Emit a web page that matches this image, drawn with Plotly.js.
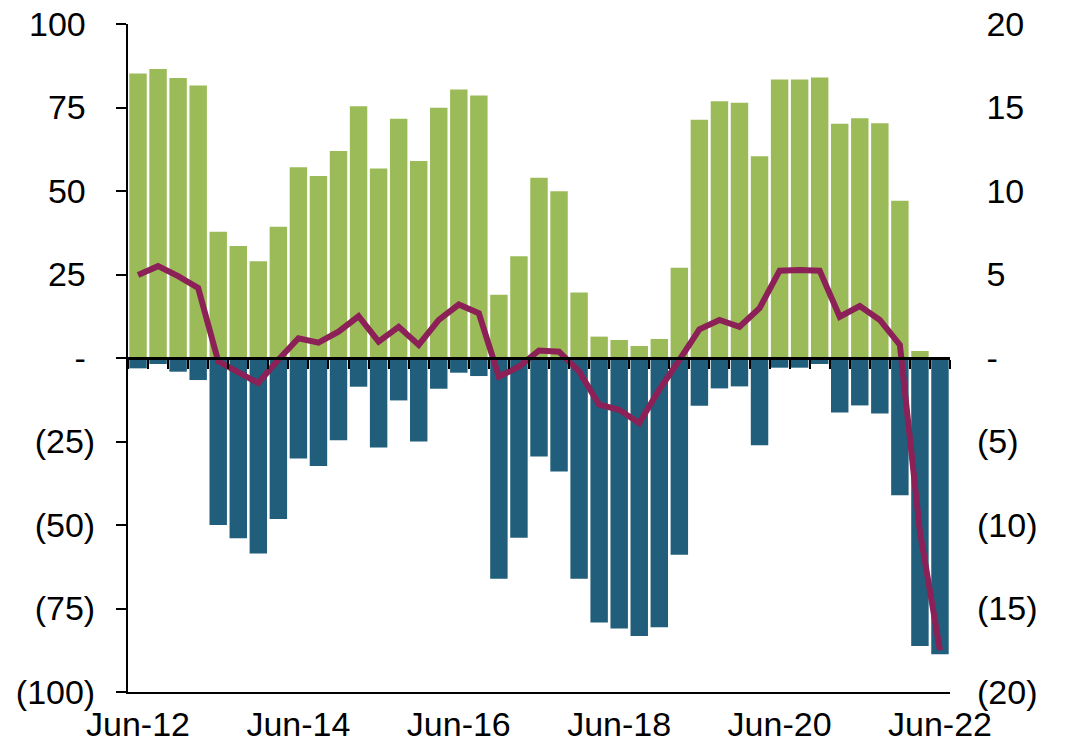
<!DOCTYPE html>
<html>
<head>
<meta charset="utf-8">
<script src="https://cdn.plot.ly/plotly-3.0.1.min.js"></script>
<style>
  html, body { margin: 0; padding: 0; background: #ffffff; }
  #chart { width: 1068px; height: 742px; }
</style>
</head>
<body>
<div id="chart"></div>
<script>
// Quarter labels
const quarters = [
  "Jun-12","Sep-12","Dec-12","Mar-13","Jun-13","Sep-13","Dec-13","Mar-14",
  "Jun-14","Sep-14","Dec-14","Mar-15","Jun-15","Sep-15","Dec-15","Mar-16",
  "Jun-16","Sep-16","Dec-16","Mar-17","Jun-17","Sep-17","Dec-17","Mar-18",
  "Jun-18","Sep-18","Dec-18","Mar-19","Jun-19","Sep-19","Dec-19","Mar-20",
  "Jun-20","Sep-20","Dec-20","Mar-21","Jun-21","Sep-21","Dec-21","Mar-22",
  "Jun-22"
];

// Positive series (green bars, left axis)
const positiveValues = [
  85.2, 86.5, 83.8, 81.6, 37.8, 33.5, 29.0, 39.3,
  57.1, 54.5, 62.0, 75.4, 56.7, 71.6, 59.0, 74.9,
  80.4, 78.6, 18.9, 30.5, 54.0, 49.9, 19.6, 6.4,
  5.4, 3.6, 5.7, 27.0, 71.3, 76.9, 76.4, 60.4,
  83.4, 83.4, 84.0, 70.1, 71.8, 70.3, 47.1, 2.1,
  0.0
];

// Negative series (blue bars, left axis)
const negativeValues = [
  -3.1, -1.8, -4.1, -6.6, -50.0, -54.0, -58.5, -48.2,
  -30.1, -32.3, -24.6, -8.6, -26.8, -12.7, -25.0, -9.2,
  -4.4, -5.4, -66.1, -53.8, -29.5, -34.0, -66.1, -79.2,
  -81.0, -83.2, -80.6, -58.9, -14.3, -9.1, -8.5, -26.1,
  -2.9, -2.9, -1.8, -16.3, -14.2, -16.6, -41.1, -86.2,
  -88.7
];

// Net series (purple line, right axis)
const netValues = [
  4.97, 5.5, 4.9, 4.2, -0.2, -0.8, -1.5, -0.1,
  1.18, 0.92, 1.58, 2.5, 0.98, 1.87, 0.78, 2.28,
  3.2, 2.68, -1.12, -0.52, 0.45, 0.38, -0.8, -2.8,
  -3.1, -3.9, -1.9, -0.12, 1.72, 2.28, 1.87, 2.98,
  5.23, 5.27, 5.23, 2.47, 3.11, 2.28, 0.78, -10.4,
  -17.5
];

// Axis tick labels
const xTickLabels = ["Jun-12","Jun-14","Jun-16","Jun-18","Jun-20","Jun-22"];
const leftTickVals = [100, 75, 50, 25, 0, -25, -50, -75, -100];
const leftTickText = ["100\u00a0","75\u00a0","50\u00a0","25\u00a0","-\u00a0","(25)","(50)","(75)","(100)"];
const rightTickVals = [20, 15, 10, 5, 0, -5, -10, -15, -20];
const rightTickText = ["\u00a020","\u00a015","\u00a010","\u00a05","\u00a0-","(5)","(10)","(15)","(20)"];

const FONT = "Liberation Sans, Arial, sans-serif";
const GREEN = "#9BBB59";
const BLUE = "#215E7B";
const PURPLE = "#8C2157";

const traces = [
  {
    type: "bar", x: quarters, y: positiveValues, xaxis: "x", yaxis: "y",
    marker: { color: GREEN, line: { width: 0 } }, hoverinfo: "x+y", showlegend: false
  },
  {
    type: "bar", x: quarters, y: negativeValues, xaxis: "x", yaxis: "y",
    marker: { color: BLUE, line: { width: 0 } }, hoverinfo: "x+y", showlegend: false
  },
  {
    type: "scatter", mode: "lines", x: quarters, y: netValues, xaxis: "x2", yaxis: "y2",
    line: { color: PURPLE, width: 6, shape: "linear" }, hoverinfo: "x+y", showlegend: false
  }
];

const layout = {
  width: 1068, height: 742,
  margin: { l: 128, r: 118, t: 24, b: 50, pad: 0 },
  paper_bgcolor: "#ffffff", plot_bgcolor: "#ffffff",
  font: { family: FONT, size: 34, color: "#000000" },
  barmode: "relative",
  bargap: 0.13,
  showlegend: false,
  xaxis: {
    type: "category",
    range: [-0.5, 40.5],
    tickvals: xTickLabels, ticktext: xTickLabels,
    ticks: "", showgrid: false, zeroline: false,
    showline: true, linecolor: "#000000", linewidth: 2,
    tickfont: { family: FONT, size: 34, color: "#000000" },
    ticklabelstandoff: 1,
    fixedrange: true
  },
  xaxis2: {
    type: "category",
    overlaying: "x",
    anchor: "free", position: 0.5,
    range: [-0.5, 40.5],
    showticklabels: false,
    ticks: "outside", tickson: "boundaries", ticklen: 9, tickwidth: 2, tickcolor: "#000000",
    showgrid: false, zeroline: false,
    showline: true, linecolor: "#000000", linewidth: 3,
    layer: "above traces",
    fixedrange: true
  },
  yaxis: {
    range: [-100, 100],
    tickvals: leftTickVals, ticktext: leftTickText,
    ticks: "outside", ticklen: 10, tickwidth: 2, tickcolor: "#000000",
    showline: true, linecolor: "#000000", linewidth: 2,
    showgrid: false, zeroline: false,
    tickfont: { family: FONT, size: 34, color: "#000000" },
    ticklabelstandoff: 14,
    fixedrange: true
  },
  yaxis2: {
    overlaying: "y", side: "right", anchor: "free", position: 1,
    range: [-20, 20],
    tickvals: rightTickVals, ticktext: rightTickText,
    ticks: "", showline: false, showgrid: false, zeroline: false,
    tickfont: { family: FONT, size: 34, color: "#000000" },
    ticklabelstandoff: 26,
    fixedrange: true
  }
};

Plotly.newPlot("chart", traces, layout, { displayModeBar: false, staticPlot: true });
</script>
</body>
</html>
